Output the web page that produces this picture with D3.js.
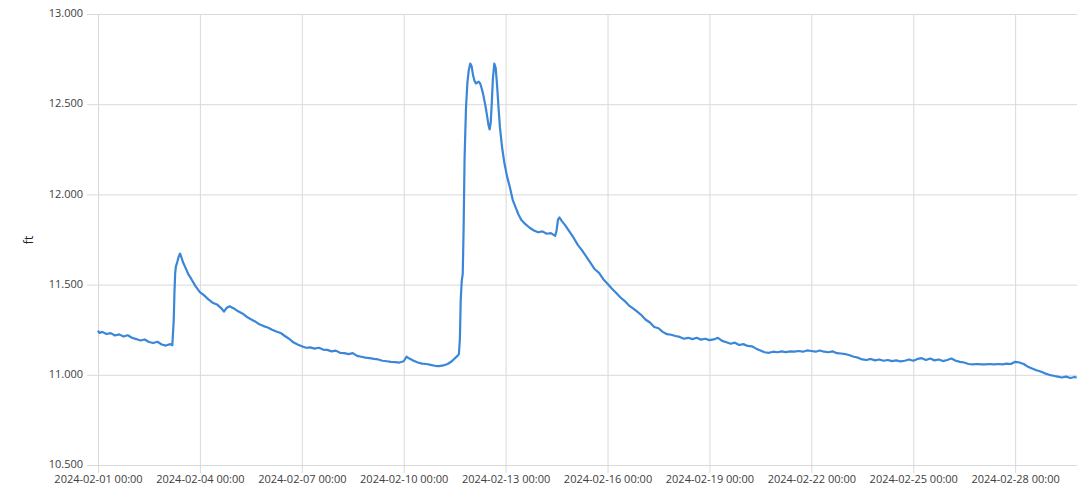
<!DOCTYPE html>
<html>
<head>
<meta charset="utf-8">
<script src="https://cdn.jsdelivr.net/npm/d3@7"></script>
<style>
  body { margin: 0; background: #fff; }
  text { font-family: "Open Sans", "Liberation Sans", sans-serif; }
</style>
</head>
<body>
<svg></svg>
<script>
// time axis starts here, readings are hours after it
let startTime = '2024-02-01 00:00';
let endHours = 691.7;

// hours after start
let hours = [
  0, 1, 3, 6, 9, 12, 15, 18, 21, 24, 27, 30, 33, 36, 39, 42, 45, 48, 51, 52.5,
  53.5, 54, 54.5, 55, 56, 57, 58, 59, 60, 62, 64, 66, 69, 72, 75, 78, 81, 84, 87, 89,
  91, 93, 96, 99, 102, 105, 108, 111, 114, 117, 120, 123, 126, 129, 132, 135, 138, 141, 144, 147,
  150, 153, 156, 159, 162, 165, 168, 171, 174, 177, 180, 183, 186, 189, 192, 195, 198, 201, 204, 207,
  210, 213, 216, 218, 220, 223, 226, 229, 232, 235, 238, 241, 244, 247, 250, 252, 254, 255, 255.7, 256.3,
  257, 257.7, 258.3, 259, 260, 261, 262, 263, 264, 265, 266, 267, 268, 269, 270, 271, 272, 273, 274, 275,
  276, 276.7, 277.5, 278.3, 279, 280, 281, 282, 283, 284, 285.5, 287, 289, 291, 293, 295, 297, 299, 302, 305,
  308, 311, 314, 317, 320, 323, 324, 325, 326, 327.5, 330, 333, 336, 339, 342, 345, 348, 351, 354, 357,
  360, 363, 366, 369, 372, 375, 378, 381, 384, 387, 390, 393, 396, 399, 402, 405, 408, 411, 414, 417,
  420, 423, 426, 429, 432, 435, 438, 441, 444, 447, 450, 453, 456, 459, 462, 465, 468, 471, 474, 477,
  480, 483, 486, 489, 492, 495, 498, 501, 504, 507, 510, 513, 516, 519, 522, 525, 528, 531, 534, 537,
  540, 543, 546, 549, 552, 555, 558, 561, 564, 567, 570, 573, 576, 579, 582, 585, 588, 591, 594, 597,
  600, 603, 606, 609, 612, 615, 618, 621, 624, 627, 630, 633, 636, 639, 642, 645, 648, 651, 654, 657,
  660, 663, 666, 669, 672, 675, 678, 681, 684, 687, 690, 691.5
];

// water level in ft
let levels = [
  11.245, 11.232, 11.238, 11.226, 11.231, 11.218, 11.224, 11.212, 11.219, 11.205, 11.198, 11.190, 11.196, 11.182, 11.176, 11.183, 11.168, 11.162, 11.170, 11.164,
  11.300, 11.450, 11.560, 11.600, 11.625, 11.655, 11.672, 11.650, 11.625, 11.590, 11.555, 11.530, 11.490, 11.458, 11.440, 11.418, 11.400, 11.390, 11.370, 11.350,
  11.372, 11.380, 11.368, 11.352, 11.340, 11.322, 11.308, 11.296, 11.280, 11.270, 11.262, 11.250, 11.240, 11.232, 11.215, 11.200, 11.180, 11.168, 11.158, 11.150,
  11.152, 11.145, 11.150, 11.140, 11.138, 11.130, 11.134, 11.122, 11.120, 11.115, 11.120, 11.105, 11.100, 11.095, 11.092, 11.088, 11.085, 11.078, 11.075, 11.072,
  11.070, 11.068, 11.075, 11.100, 11.090, 11.078, 11.068, 11.062, 11.060, 11.055, 11.050, 11.048, 11.052, 11.060, 11.075, 11.090, 11.105, 11.115, 11.200, 11.420,
  11.520, 11.560, 11.800, 12.200, 12.480, 12.620, 12.690, 12.725, 12.710, 12.660, 12.630, 12.615, 12.620, 12.625, 12.615, 12.590, 12.560, 12.520, 12.480, 12.430,
  12.380, 12.360, 12.400, 12.520, 12.640, 12.725, 12.700, 12.600, 12.480, 12.370, 12.260, 12.180, 12.100, 12.040, 11.970, 11.930, 11.890, 11.860, 11.835, 11.815,
  11.800, 11.790, 11.795, 11.782, 11.785, 11.770, 11.800, 11.860, 11.872, 11.855, 11.830, 11.795, 11.760, 11.720, 11.690, 11.655, 11.620, 11.585, 11.565, 11.530,
  11.505, 11.478, 11.455, 11.430, 11.410, 11.385, 11.368, 11.350, 11.330, 11.305, 11.290, 11.265, 11.258, 11.238, 11.225, 11.222, 11.215, 11.210, 11.200, 11.205,
  11.198, 11.205, 11.195, 11.200, 11.192, 11.196, 11.205, 11.188, 11.180, 11.172, 11.178, 11.165, 11.170, 11.160, 11.158, 11.145, 11.135, 11.125, 11.122, 11.128,
  11.125, 11.130, 11.126, 11.130, 11.128, 11.132, 11.128, 11.135, 11.132, 11.128, 11.135, 11.128, 11.125, 11.130, 11.120, 11.118, 11.115, 11.108, 11.100, 11.095,
  11.085, 11.082, 11.088, 11.080, 11.085, 11.078, 11.082, 11.076, 11.080, 11.074, 11.078, 11.085, 11.078, 11.088, 11.092, 11.082, 11.090, 11.080, 11.085, 11.076,
  11.082, 11.090, 11.078, 11.072, 11.068, 11.060, 11.058, 11.060, 11.058, 11.058, 11.060, 11.058, 11.060, 11.058, 11.062, 11.060, 11.072, 11.068, 11.060, 11.045,
  11.035, 11.025, 11.018, 11.008, 11.000, 10.995, 10.990, 10.985, 10.990, 10.982, 10.988, 10.985
];

let yTicks = [10.5, 11.0, 11.5, 12.0, 12.5, 13.0];
let xTickLabels = ['2024-02-01 00:00', '2024-02-04 00:00', '2024-02-07 00:00', '2024-02-10 00:00',
  '2024-02-13 00:00', '2024-02-16 00:00', '2024-02-19 00:00', '2024-02-22 00:00',
  '2024-02-25 00:00', '2024-02-28 00:00'];
let yLabel = 'ft';

let config = { svg: {}, plot: {} };
config.svg.width = 1077;
config.svg.height = 489;
config.plot.x = 98;
config.plot.y = 14;
config.plot.width = 1077 - 98;
config.plot.height = 465 - 14;

let svg = d3.select('svg')
  .attr('width', config.svg.width)
  .attr('height', config.svg.height);

let parseTime = d3.timeParse('%Y-%m-%d %H:%M');
let t0 = parseTime(startTime);
let data = hours.map((h, i) => ({ date: new Date(t0.getTime() + h * 3600000), value: levels[i] }));

let x = d3.scaleTime()
  .domain([t0, new Date(t0.getTime() + endHours * 3600000)])
  .range([0, config.plot.width]);
let y = d3.scaleLinear()
  .domain([10.5, 13.0])
  .range([config.plot.height, 0]);

let plot = svg.append('g').attr('transform', translate(config.plot.x, config.plot.y));

// y axis with full-width grid lines
let gy = plot.append('g')
  .call(d3.axisLeft(y).tickValues(yTicks).tickSize(-config.plot.width).tickSizeOuter(0)
    .tickFormat(d3.format('.3f')));
gy.select('.domain').remove();
gy.selectAll('.tick line')
  .attr('stroke', '#d9d9d9')
  .attr('x1', -11);
gy.selectAll('.tick text')
  .attr('fill', '#404040')
  .attr('font-size', 11)
  .attr('x', -15)
  .attr('dy', '0.25em');

// x axis with full-height grid lines
let xTicks = xTickLabels.map(parseTime);
let gx = plot.append('g')
  .attr('transform', translate(0, config.plot.height))
  .call(d3.axisBottom(x).tickValues(xTicks).tickSize(-config.plot.height).tickSizeOuter(0)
    .tickFormat(d3.timeFormat('%Y-%m-%d %H:%M')));
gx.select('.domain').remove();
gx.selectAll('.tick line')
  .attr('stroke', '#d9d9d9')
  .attr('y1', 8);
gx.selectAll('.tick text')
  .attr('fill', '#404040')
  .attr('font-size', 11)
  .attr('y', 10);

// the level line
plot.append('path')
  .datum(data)
  .attr('fill', 'none')
  .attr('stroke', '#3a86d8')
  .attr('stroke-width', 2.2)
  .attr('stroke-linejoin', 'round')
  .attr('d', d3.line()
    .x(d => x(d.date))
    .y(d => y(d.value)));

svg.append('text')
  .attr('transform', 'translate(33,240) rotate(-90)')
  .attr('text-anchor', 'middle')
  .attr('font-size', 12)
  .attr('fill', '#222')
  .text(yLabel);

function translate(x, y) {
  return 'translate(' + x + ',' + y + ')';
}
</script>
</body>
</html>
